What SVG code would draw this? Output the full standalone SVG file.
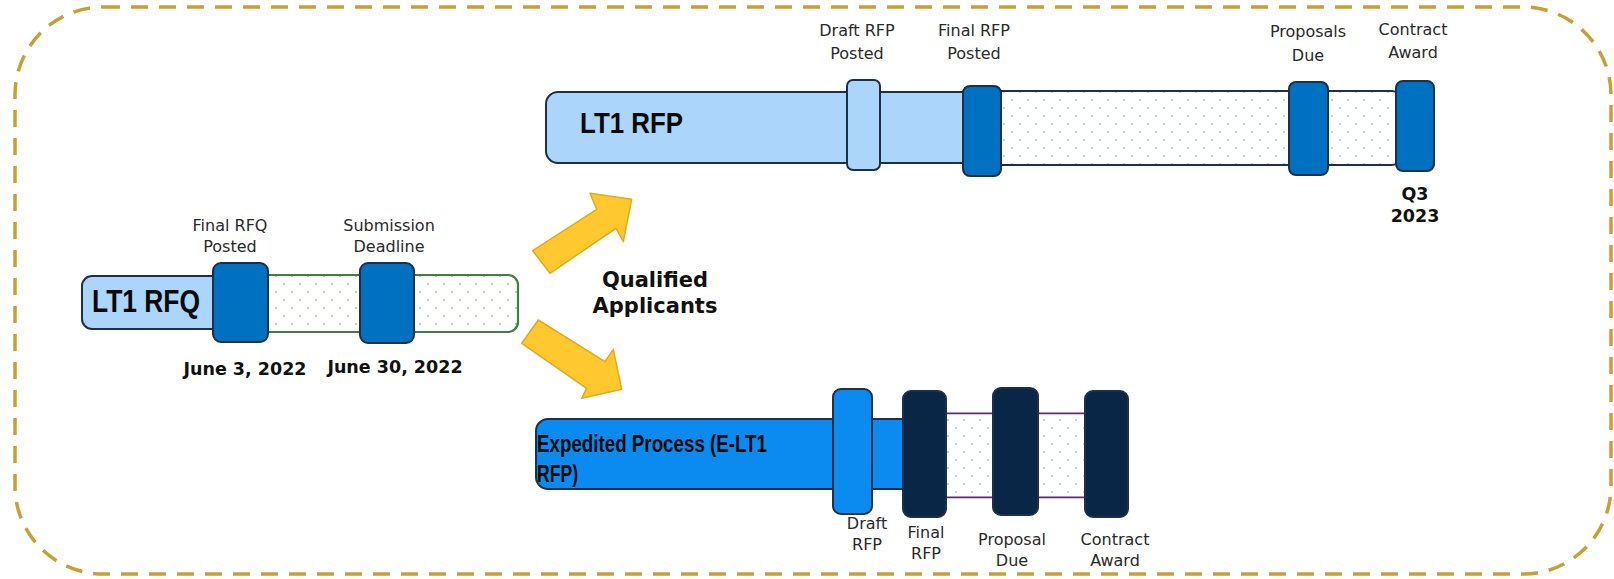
<svg xmlns="http://www.w3.org/2000/svg" width="1614" height="579" viewBox="0 0 1614 579">
<defs>
<pattern id="dotsGreen" width="16" height="16" patternUnits="userSpaceOnUse">
<rect width="16" height="16" fill="#ffffff"/>
<circle cx="4" cy="4" r="0.9" fill="#7ccf7c"/>
<circle cx="12" cy="12" r="0.9" fill="#7ccf7c"/>
</pattern>
<pattern id="dotsBlue" width="16" height="16" patternUnits="userSpaceOnUse">
<rect width="16" height="16" fill="#ffffff"/>
<circle cx="4" cy="4" r="0.9" fill="#8ec4f2"/>
<circle cx="12" cy="12" r="0.9" fill="#8ec4f2"/>
</pattern>
</defs>
<style>
.frame{fill:none;stroke:#c8a036;stroke-width:3.5;stroke-dasharray:17 11}
.light{fill:#acd5fb;stroke:#1c304c;stroke-width:2}
.mid{fill:#0070c0;stroke:#1c304c;stroke-width:2}
.bright{fill:#0b8bef;stroke:#1c304c;stroke-width:2}
.navy{fill:#0a2647;stroke:#1c304c;stroke-width:2}
.greenbar{fill:url(#dotsGreen);stroke:#3f7f3f;stroke-width:2.2}
.bluebar{fill:url(#dotsBlue);stroke:#1c304c;stroke-width:2}
.purple{stroke:#5b2c6f;stroke-width:1.8}
.arrow{fill:#fec82e;stroke:#e2aa1e;stroke-width:1.5;stroke-linejoin:round}
.lbl{font-family:"DejaVu Sans","Liberation Sans",sans-serif;font-size:16px;fill:#2a2a2a;text-anchor:middle}
.date{font-family:"DejaVu Sans","Liberation Sans",sans-serif;font-size:17.5px;font-weight:bold;fill:#111;text-anchor:middle}
.title{font-family:"Liberation Sans Narrow","Liberation Sans",Arial,sans-serif;font-weight:bold;fill:#0a0a0a}
.qa{font-family:"DejaVu Sans","Liberation Sans",sans-serif;font-size:21px;font-weight:bold;fill:#111;text-anchor:middle}
</style>

<rect class="frame" x="15" y="7" width="1596" height="567" rx="88" ry="88"/>

<g id="rfq">
<rect class="light" x="82" y="276" width="150" height="53" rx="10"/>
<rect class="greenbar" x="250" y="275" width="268" height="57" rx="10"/>
<rect class="mid" x="213" y="263" width="55" height="79" rx="8"/>
<rect class="mid" x="360" y="263" width="54" height="80" rx="8"/>
<text class="title" x="92" y="312" font-size="31" textLength="108" lengthAdjust="spacingAndGlyphs">LT1 RFQ</text>
<text class="lbl" x="230" y="231">Final RFQ</text>
<text class="lbl" x="230" y="252">Posted</text>
<text class="lbl" x="389" y="231">Submission</text>
<text class="lbl" x="389" y="252">Deadline</text>
<text class="date" x="245" y="375">June 3, 2022</text>
<text class="date" x="395" y="373">June 30, 2022</text>
</g>

<g id="connectors">
<polygon class="arrow" points="550,273.3 532.7,250.7 596.7,209.3 590,193.3 631.7,199.3 623.3,241.7 616,228.3"/>
<polygon class="arrow" points="538.3,320 605,361.7 613.3,349.3 621.7,389.3 581.7,398.3 586.7,388.3 521.7,343.3"/>
</g>

<g id="qualified">
<text class="qa" x="655" y="287">Qualified</text>
<text class="qa" x="655" y="313">Applicants</text>
</g>

<g id="rfp">
<rect class="light" x="546" y="92" width="430" height="71" rx="12"/>
<rect class="bluebar" x="990" y="91" width="410" height="74" rx="8"/>
<rect class="light" x="847" y="80" width="33" height="90" rx="6"/>
<rect class="mid" x="963" y="86" width="38" height="90" rx="7"/>
<rect class="mid" x="1289" y="82" width="39" height="93" rx="7"/>
<rect class="mid" x="1396" y="81" width="38" height="90" rx="7"/>
<text class="title" x="580" y="133" font-size="29" textLength="103" lengthAdjust="spacingAndGlyphs">LT1 RFP</text>
<text class="lbl" x="857" y="36">Draft RFP</text>
<text class="lbl" x="857" y="59">Posted</text>
<text class="lbl" x="974" y="36">Final RFP</text>
<text class="lbl" x="974" y="59">Posted</text>
<text class="lbl" x="1308" y="37">Proposals</text>
<text class="lbl" x="1308" y="61">Due</text>
<text class="lbl" x="1413" y="35">Contract</text>
<text class="lbl" x="1413" y="58">Award</text>
<text class="date" x="1415" y="200">Q3</text>
<text class="date" x="1415" y="222">2023</text>
</g>

<g id="elt1">
<rect class="bright" x="536" y="419" width="380" height="70" rx="12"/>
<rect x="946" y="413.3" width="139" height="84" fill="url(#dotsBlue)"/>
<line class="purple" x1="946" y1="413.3" x2="1085" y2="413.3"/>
<line class="purple" x1="946" y1="497.3" x2="1085" y2="497.3"/>
<rect class="bright" x="833" y="389" width="39" height="125" rx="8"/>
<rect class="navy" x="903" y="391" width="43" height="126" rx="8"/>
<rect class="navy" x="993" y="388" width="45" height="127" rx="8"/>
<rect class="navy" x="1085" y="391" width="43" height="126" rx="8"/>
<text class="title" x="537" y="452" font-size="23" textLength="230" lengthAdjust="spacingAndGlyphs">Expedited Process (E-LT1</text>
<text class="title" x="537" y="482" font-size="23" textLength="41" lengthAdjust="spacingAndGlyphs">RFP)</text>
<text class="lbl" x="867" y="529">Draft</text>
<text class="lbl" x="867" y="550">RFP</text>
<text class="lbl" x="926" y="538">Final</text>
<text class="lbl" x="926" y="559">RFP</text>
<text class="lbl" x="1012" y="545">Proposal</text>
<text class="lbl" x="1012" y="566">Due</text>
<text class="lbl" x="1115" y="545">Contract</text>
<text class="lbl" x="1115" y="566">Award</text>
</g>
</svg>
